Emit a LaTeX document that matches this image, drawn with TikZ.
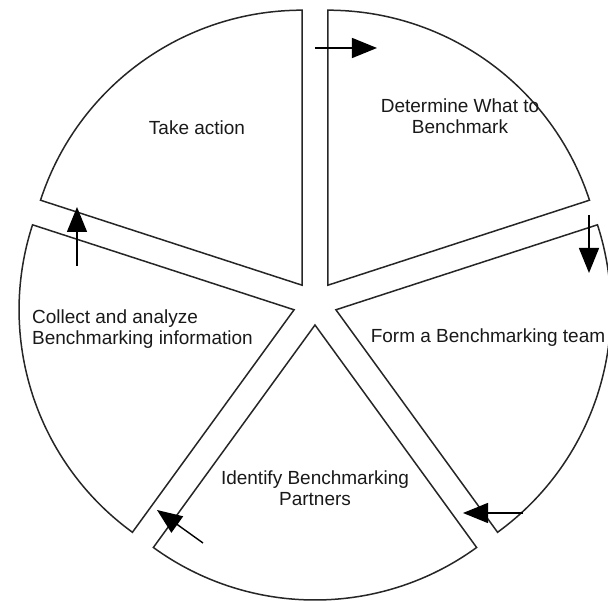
\documentclass[tikz,border=0pt]{standalone}
\usepackage{fontspec}
\setmainfont{Liberation Sans}
\usetikzlibrary{arrows.meta}

\begin{document}
\begin{tikzpicture}[x=1pt,y=1pt,line width=1.5pt,
  wedge/.style={draw=black!85,line join=miter},
  flow/.style={-{Triangle[length=25pt,width=20pt]},line width=1.4pt},
  lbl/.style={font=\fontsize{19}{20.5}\selectfont,align=center,text=black!90}]
  \useasboundingbox (-315,-298) rectangle (293,303);
  % five wedges, each pushed out along its bisector
  \foreach \b in {126,54,-18,-90,198}{
    \pgfmathsetmacro\s{\b-36}
    \pgfmathsetmacro\e{\b+36}
    \draw[wedge] (\b:22) -- ++(\s:275) arc[start angle=\s,end angle=\e,radius=275] -- cycle;
  }
  \node[lbl] (act) at (-118,175) {Take action};
  \node[lbl] (what) at (145,187) {Determine What to\\Benchmark};
  \node[lbl] (team) at (173,-35) {Form a Benchmarking team};
  \node[lbl] (partners) at (0,-185) {Identify Benchmarking\\Partners};
  \node[lbl,align=left,anchor=west] (collect) at (-287,-26) {Collect and analyze\\Benchmarking information};
  % arrows round the rim
  \coordinate (a1) at (0,255);   \coordinate (b1) at (62,255);
  \coordinate (a2) at (274,88);  \coordinate (b2) at (274,30);
  \coordinate (a3) at (208,-210);\coordinate (b3) at (148,-210);
  \coordinate (a4) at (-112,-240);\coordinate (b4) at (-158,-207);
  \coordinate (a5) at (-238,37); \coordinate (b5) at (-238,96);
  \draw[flow] (a1)--(b1);
  \draw[flow] (a2)--(b2);
  \draw[flow] (a3)--(b3);
  \draw[flow] (a4)--(b4);
  \draw[flow] (a5)--(b5);
\end{tikzpicture}
\end{document}
